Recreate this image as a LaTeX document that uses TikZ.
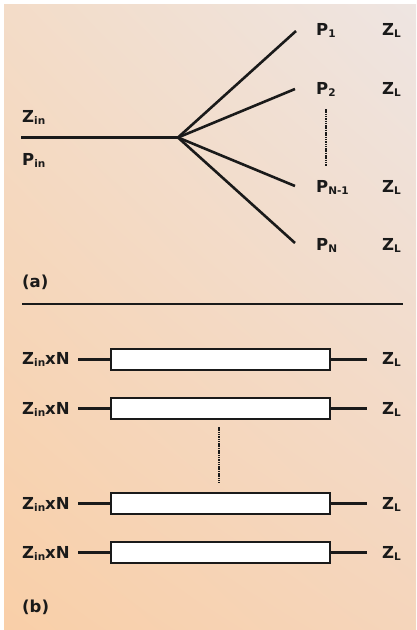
\documentclass[tikz,border=0pt]{standalone}
\usepackage{fontspec}
\usetikzlibrary{shadings}
\setmainfont{DejaVu Sans}
\definecolor{bgUL}{HTML}{F3DCC8}
\definecolor{bgUR}{HTML}{EEE5E2}
\definecolor{bgLL}{HTML}{F9CFA8}
\definecolor{bgLR}{HTML}{F5D5BB}
\definecolor{ink}{HTML}{1A1A1A}
\newcommand\lowsub[1]{\raisebox{-2pt}{\fontsize{10.5}{10.5}\selectfont\bfseries #1}}
\tikzset{
  lbl/.style={anchor=base west, inner sep=0pt, font=\fontsize{16.5}{16.5}\selectfont\bfseries, text=ink},
  wire/.style={draw=ink, line width=2.6pt},
  dotline/.style={draw=ink, line width=2.2pt, dash pattern=on 1.5pt off 0.8pt},
  tline/.style={draw=ink, fill=white, line width=2pt, minimum width=219pt, minimum height=21.5pt, inner sep=0pt, anchor=center},
}
\begin{document}
\begin{tikzpicture}[x=1pt,y=-1pt]
\useasboundingbox (0,0) rectangle (416,630);
\fill[white] (0,0) rectangle (416,630);
\shade[upper left=bgUL, upper right=bgUR, lower left=bgLL, lower right=bgLR] (4,4) rectangle (416,630);
% ---------- (a) ----------
\coordinate (inL) at (21,137.5);
\coordinate (hub) at (178,137.5);
\coordinate (e1) at (296,31);
\coordinate (e2) at (295,89);
\coordinate (e3) at (295,186);
\coordinate (e4) at (295,243);
\draw[wire] (inL) -- (hub);
\draw[wire] (hub) -- (e1);
\draw[wire] (hub) -- (e2);
\draw[wire] (hub) -- (e3);
\draw[wire] (hub) -- (e4);
\node[lbl] (zin) at (22,122) {Z\lowsub{in}};
\node[lbl] (pin) at (22,165) {P\lowsub{in}};
\node[lbl] (p1) at (316,35) {P\lowsub{1}};
\node[lbl] (p2) at (316,94) {P\lowsub{2}};
\node[lbl] (p3) at (316,192) {P\lowsub{N-1}};
\node[lbl] (p4) at (316,250) {P\lowsub{N}};
\node[lbl] (zl1) at (382,35) {Z\lowsub{L}};
\node[lbl] (zl2) at (382,94) {Z\lowsub{L}};
\node[lbl] (zl3) at (382,192) {Z\lowsub{L}};
\node[lbl] (zl4) at (382,250) {Z\lowsub{L}};
\coordinate (da1) at (326,109);
\coordinate (da2) at (326,166);
\draw[dotline] (da1) -- (da2);
\node[lbl] (capa) at (22,287) {(a)};
\coordinate (sepL) at (22,304);
\coordinate (sepR) at (403,304);
\draw[draw=ink, line width=1.6pt] (sepL) -- (sepR);
% ---------- (b) ----------
\foreach \i/\yc/\yb in {1/359.5/364, 2/408.5/414, 3/503.5/509, 4/552.5/558}{
  \node[tline] (box\i) at (220.5,\yc) {};
  \coordinate (wl\i) at (78,\yc);
  \coordinate (wr\i) at (367,\yc);
  \draw[wire] (wl\i) -- (box\i.west);
  \draw[wire] (box\i.east) -- (wr\i);
  \node[lbl] (zn\i) at (22,\yb) {Z\lowsub{in}xN};
  \node[lbl] (zb\i) at (382,\yb) {Z\lowsub{L}};
}
\coordinate (db1) at (219,427);
\coordinate (db2) at (219,483);
\draw[dotline] (db1) -- (db2);
\node[lbl] (capb) at (22,612) {(b)};
\end{tikzpicture}
\end{document}
